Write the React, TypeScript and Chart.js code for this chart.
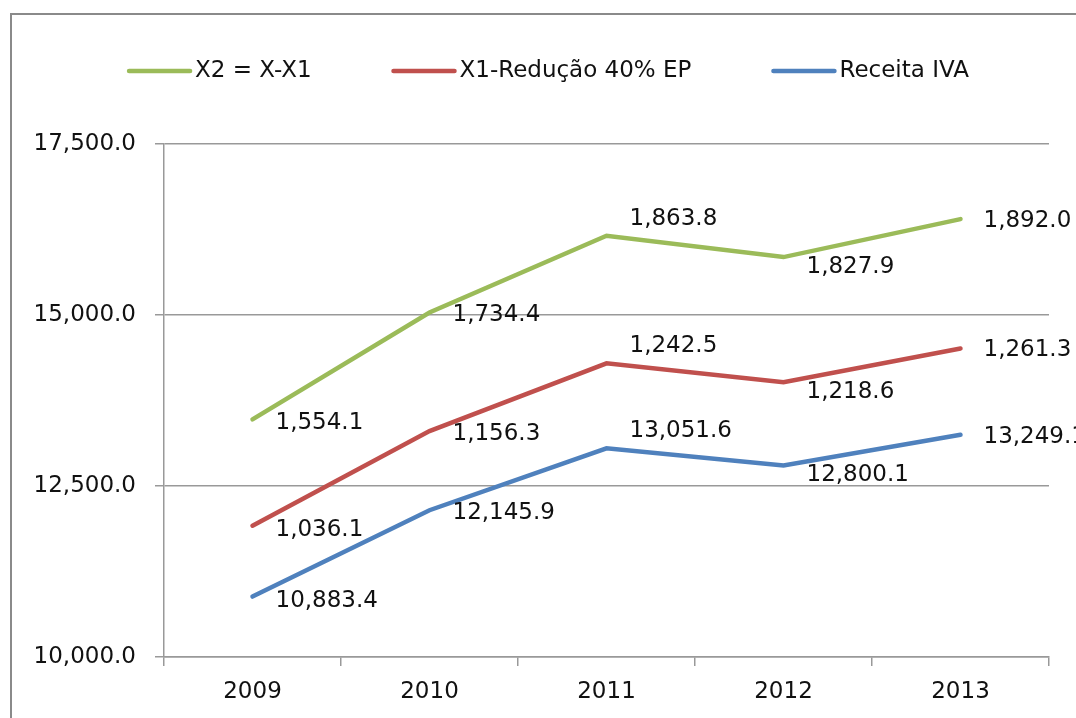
import React, { useEffect, useRef } from "react";
import { Chart, registerables } from "chart.js";

Chart.register(...registerables);

const categories = ["2009", "2010", "2011", "2012", "2013"];
const receitaIVA = [10883.4, 12145.9, 13051.6, 12800.1, 13249.1];
const x1Reducao = [1036.1, 1156.3, 1242.5, 1218.6, 1261.3];
const x2 = [1554.1, 1734.4, 1863.8, 1827.9, 1892.0];
const yTicks = [10000, 12500, 15000, 17500];

const FONT = "'DejaVu Sans', sans-serif";
const FS = 23;
const fmt = (v: number) =>
  v.toLocaleString("en-US", { minimumFractionDigits: 1, maximumFractionDigits: 1 });

// vertical label offsets per category (style only)
const labelDy = [4, 3, -17, 10, 2];

const labelsPlugin = {
  id: "valueLabels",
  afterDatasetsDraw(chart: any) {
    const ctx = chart.ctx;
    ctx.save();
    ctx.font = `${FS}px ${FONT}`;
    ctx.fillStyle = "#111";
    ctx.textAlign = "left";
    ctx.textBaseline = "middle";
    chart.data.datasets.forEach((ds: any, di: number) => {
      const meta = chart.getDatasetMeta(di);
      meta.data.forEach((pt: any, i: number) => {
        ctx.fillText(fmt(ds.data[i]), pt.x + 23, pt.y + labelDy[i]);
      });
    });
    ctx.restore();
  },
};

const legendPlugin = {
  id: "customLegend",
  afterDraw(chart: any) {
    const ctx = chart.ctx;
    ctx.save();
    ctx.font = `${FS}px ${FONT}`;
    ctx.textBaseline = "middle";
    ctx.textAlign = "left";
    const items = [...chart.data.datasets].reverse();
    const lineW = 61;
    const gap = 5;
    const spacing = 82;
    const widths = items.map((d: any) => lineW + gap + ctx.measureText(d.label).width);
    const total = widths.reduce((a: number, b: number) => a + b, 0) + spacing * (items.length - 1);
    let x = 549 - total / 2;
    const y = 71;
    items.forEach((d: any, i: number) => {
      ctx.strokeStyle = d.borderColor;
      ctx.lineWidth = 4.5;
      ctx.lineCap = "round";
      ctx.beginPath();
      ctx.moveTo(x, y);
      ctx.lineTo(x + lineW, y);
      ctx.stroke();
      ctx.fillStyle = "#111";
      ctx.fillText(d.label, x + lineW + gap, y);
      x += widths[i] + spacing;
    });
    ctx.restore();
  },
};

export default function App() {
  const ref = useRef<HTMLCanvasElement>(null);
  useEffect(() => {
    document.body.style.margin = "0";
    const chart = new Chart(ref.current!, {
      type: "line",
      data: {
        labels: categories,
        datasets: [
          { label: "Receita IVA", data: receitaIVA, borderColor: "#4F81BD", backgroundColor: "#4F81BD" },
          { label: "X1-Redução 40% EP", data: x1Reducao, borderColor: "#C0504D", backgroundColor: "#C0504D" },
          { label: "X2 = X-X1", data: x2, borderColor: "#9BBB59", backgroundColor: "#9BBB59" },
        ].map((d) => ({ ...d, borderWidth: 4.5, pointRadius: 0, fill: false, tension: 0, borderCapStyle: "round" as const })),
      },
      options: {
        responsive: false,
        animation: false,
        layout: { padding: { top: 144, right: 27, left: 0, bottom: 0 } },
        plugins: { legend: { display: false }, tooltip: { enabled: false } },
        scales: {
          x: {
            offset: true,
            grid: { offset: true, drawOnChartArea: false, drawTicks: true, tickLength: 9, color: "#999", lineWidth: 1.5 },
            border: { display: true, color: "#999", width: 1.5 },
            ticks: { font: { family: FONT, size: FS }, color: "#111", padding: 12 },
            afterFit: (s: any) => { s.height = 61; },
          },
          y: {
            stacked: true,
            min: yTicks[0],
            max: yTicks[yTicks.length - 1],
            afterBuildTicks: (s: any) => { s.ticks = yTicks.map((v) => ({ value: v })); },
            grid: { color: "#999", lineWidth: 1.5, tickLength: 9 },
            border: { display: true, color: "#999", width: 1.5 },
            ticks: { font: { family: FONT, size: FS }, color: "#111", padding: 19, callback: (v: any) => fmt(Number(v)) },
            afterFit: (s: any) => { s.width = 164; },
          },
        },
      },
      plugins: [labelsPlugin, legendPlugin],
    });
    return () => chart.destroy();
  }, []);
  return (
    <div style={{ position: "fixed", left: 0, top: 0, width: 1076, height: 718, overflow: "hidden", background: "#fff" }}>
      <div style={{ position: "absolute", left: 10, top: 13, width: 1200, height: 900, borderLeft: "2px solid #8a8a8a", borderTop: "2px solid #8a8a8a" }} />
      <canvas ref={ref} width={1076} height={718} style={{ position: "absolute", left: 0, top: 0 }} />
    </div>
  );
}
